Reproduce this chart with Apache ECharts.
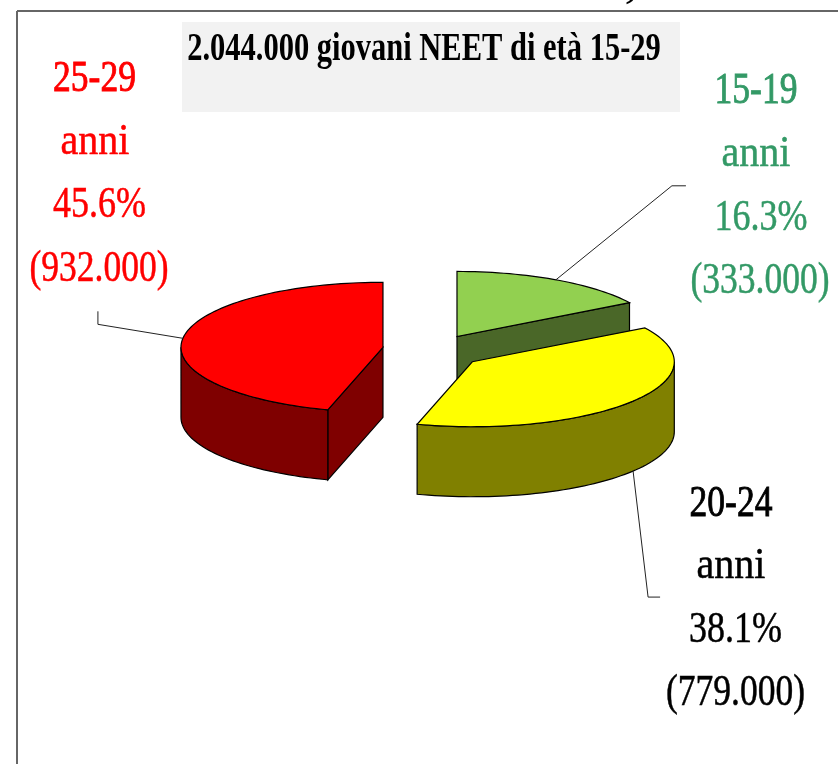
<!DOCTYPE html>
<html>
<head>
<meta charset="utf-8">
<title>Giovani NEET</title>
<script src="https://cdn.jsdelivr.net/npm/echarts@6/dist/echarts.min.js"></script>
<style>
html, body { margin: 0; padding: 0; background: #fff; }
#chart { width: 838px; height: 764px; }
</style>
</head>
<body>
<div id="chart"></div>
<script>
// dati
var titleText = '2.044.000 giovani NEET di età 15-29';
var categories = ['15-19', '20-24', '25-29'];
var unitLabel = 'anni';
var values = [333000, 779000, 932000];
var percents = ['16.3%', '38.1%', '45.6%'];
var amounts = ['(333.000)', '(779.000)', '(932.000)'];

// colori: faccia superiore, lato, testo
var topColors = ['#92d050', '#ffff00', '#ff0000'];
var sideColors = ['#4a6728', '#808000', '#7f0000'];
var textColors = ['#339966', '#000000', '#ff0000'];

// geometria della torta
var cx = 432.5, cy = 350.5, rx = 202, ry = 65, depth = 70, explode = 50;
var sliceNudgeY = [0, 1.5, -1];
// gomito delle linee guida, relativo al punto di partenza
var leaderBends = [
    [[116, -94], [130, -94]],
    [[15, 126], [27, 126]],
    [[-85, -14], [-85, -27]]
];
// se la linea parte dal lato (base) o dalla faccia superiore
var leaderOnBase = [false, true, false];
// posizione delle righe di testo
var labelBaselines = [[104, 167, 231, 294], [517, 579, 643, 706], [92, 155, 218, 282]];
var labelCenters = [[756, 756, 761, 760], [731, 731, 735.5, 735.5], [94.5, 95, 99.5, 99]];
var labelScales = [0.79, 0.89, 0.8, 0.79];

var total = values.reduce(function (a, b) { return a + b; }, 0);
var TWO_PI = Math.PI * 2;

function point(c, t, dy) {
    return [c[0] + rx * Math.sin(t), c[1] - ry * Math.cos(t) + (dy || 0)];
}
function arc(c, t0, t1, dy) {
    var pts = [];
    var n = Math.max(2, Math.ceil(Math.abs(t1 - t0) / 0.03));
    for (var i = 0; i <= n; i++) {
        pts.push(point(c, t0 + (t1 - t0) * i / n, dy));
    }
    return pts;
}
function face(points, fill) {
    return {
        type: 'polygon',
        shape: { points: points },
        style: { fill: fill, stroke: '#000', lineWidth: 1.2 }
    };
}

function renderSlice(params, api) {
    var i = params.dataIndex;
    var before = 0;
    for (var k = 0; k < i; k++) before += values[k];
    var t0 = before / total * TWO_PI;
    var t1 = (before + api.value(1)) / total * TWO_PI;
    var mid = (t0 + t1) / 2;
    var c = [cx + explode * Math.sin(mid), cy - explode * ry / rx * Math.cos(mid) + sliceNudgeY[i]];
    var side = sideColors[i];
    var children = [];

    // solo le facce rivolte verso chi guarda
    if (Math.sin(t0) < -1e-6) {
        var a = point(c, t0);
        children.push(face([c, a, [a[0], a[1] + depth], [c[0], c[1] + depth]], side));
    }
    if (Math.sin(t1) > 1e-6) {
        var b = point(c, t1);
        children.push(face([c, b, [b[0], b[1] + depth], [c[0], c[1] + depth]], side));
    }
    var w0 = Math.max(t0, Math.PI / 2), w1 = Math.min(t1, Math.PI * 1.5);
    if (w1 > w0) {
        children.push(face(arc(c, w0, w1).concat(arc(c, w1, w0, depth)), side));
    }
    children.push(face([c].concat(arc(c, t0, t1)), topColors[i]));

    // linea guida
    var start = point(c, mid, leaderOnBase[i] ? depth : 0);
    var line = [start];
    leaderBends[i].forEach(function (d) {
        line.push([start[0] + d[0], start[1] + d[1]]);
    });
    children.push({
        type: 'polyline',
        shape: { points: line },
        style: { fill: null, stroke: '#222', lineWidth: 1 }
    });
    return { type: 'group', children: children };
}

// il testo viene posizionato dall'alto: la linea di base cade a 0.78 del corpo
function textEl(text, x, baseline, size, color, weight, scaleX, strokeW) {
    return {
        type: 'text',
        x: x,
        y: baseline - size * 0.78,
        scaleX: scaleX,
        silent: true,
        style: {
            text: text,
            x: 0,
            y: 0,
            fill: color,
            stroke: strokeW ? color : null,
            lineWidth: strokeW,
            textAlign: 'center',
            font: weight + ' ' + size + 'px "Liberation Serif", serif'
        }
    };
}

var elements = [
    // cornice
    { type: 'line', shape: { x1: 17, y1: 11, x2: 838, y2: 11 }, style: { stroke: '#333', lineWidth: 1.5 } },
    { type: 'line', shape: { x1: 17, y1: 11, x2: 17, y2: 764 }, style: { stroke: '#666', lineWidth: 2 } },
    // riquadro del titolo
    { type: 'rect', shape: { x: 182, y: 22, width: 498, height: 90 }, style: { fill: '#f2f2f2' } },
    textEl(titleText, 424, 61, 39, '#000', 'bold', 0.782, 0),
    // resto del testo tagliato in alto nell'originale
    textEl(',', 631, -1, 40, '#000', 'bold', 1, 0)
];
categories.forEach(function (cat, i) {
    var lines = [cat, unitLabel, percents[i], amounts[i]];
    lines.forEach(function (t, j) {
        elements.push(textEl(t, labelCenters[i][j], labelBaselines[i][j], 45, textColors[i], 'normal', labelScales[j], j === 0 ? 0.9 : 0.5));
    });
});

var myChart = echarts.init(document.getElementById('chart'), null, { renderer: 'canvas' });
myChart.setOption({
    animation: false,
    backgroundColor: '#fff',
    graphic: { elements: elements },
    series: [{
        type: 'custom',
        coordinateSystem: 'none',
        renderItem: renderSlice,
        silent: true,
        data: categories.map(function (c, i) { return [i, values[i]]; })
    }]
});
</script>
</body>
</html>
